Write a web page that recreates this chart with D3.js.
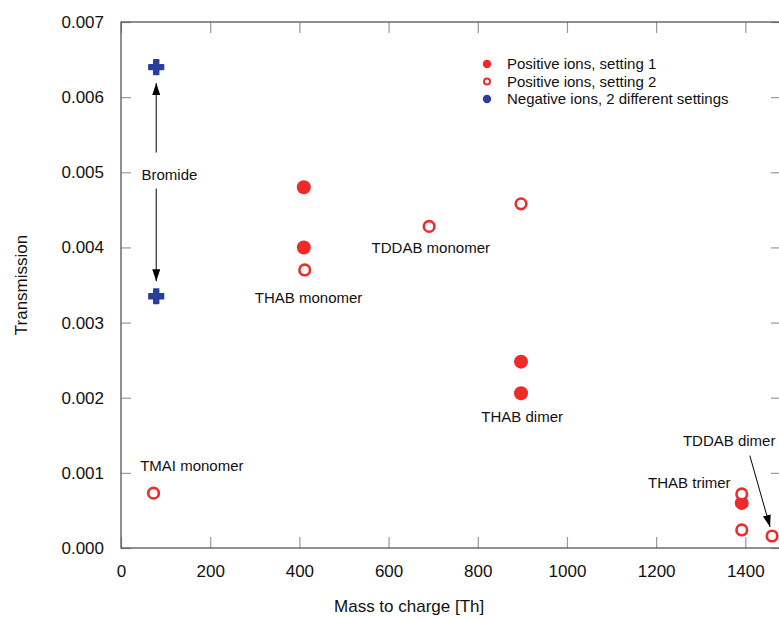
<!DOCTYPE html>
<html>
<head>
<meta charset="utf-8">
<script src="https://cdn.jsdelivr.net/npm/d3@7"></script>
<style>
  body { margin: 0; background: #fff; }
  svg { display: block; font-family: "Liberation Sans", Arial, sans-serif; }
</style>
</head>
<body>
<div class="canvas"></div>
<script>
// data
const positive1 = [
  { mz: 410, t: 0.0048 },
  { mz: 410, t: 0.0040 },
  { mz: 897, t: 0.00248 },
  { mz: 897, t: 0.00206 },
  { mz: 1392, t: 0.00060 }
];
const positive2 = [
  { mz: 73, t: 0.00073 },
  { mz: 412, t: 0.0037 },
  { mz: 691, t: 0.00428 },
  { mz: 897, t: 0.00458 },
  { mz: 1392, t: 0.00072 },
  { mz: 1392, t: 0.00024 },
  { mz: 1460, t: 0.00016 }
];
const negative = [
  { mz: 79, t: 0.0064 },
  { mz: 79, t: 0.00335 }
];
const labels = [
  { text: 'Bromide', mz: 46, t: 0.00497 },
  { text: 'THAB monomer', mz: 300, t: 0.00333 },
  { text: 'TDDAB monomer', mz: 562, t: 0.00400 },
  { text: 'THAB dimer', mz: 808, t: 0.00175 },
  { text: 'TMAI monomer', mz: 43, t: 0.00110 },
  { text: 'THAB trimer', mz: 1182, t: 0.00087 },
  { text: 'TDDAB dimer', mz: 1260, t: 0.00143 }
];
const legendItems = [
  { name: 'Positive ions, setting 1', kind: 'filled' },
  { name: 'Positive ions, setting 2', kind: 'open' },
  { name: 'Negative ions, 2 different settings', kind: 'neg' }
];
const xTicks = [0, 200, 400, 600, 800, 1000, 1200, 1400];
const yTicks = [0, 0.001, 0.002, 0.003, 0.004, 0.005, 0.006, 0.007];

const width = 779;
const height = 619;
const margin = { top: 22, right: -2, bottom: 71, left: 121 };
const graphWidth = width - margin.left - margin.right;
const graphHeight = height - margin.top - margin.bottom;

const red = '#ee2a2a';
const blue = '#2a3f9a';
const tickColor = '#999';
const axisColor = '#555';

const svg = d3.select('.canvas')
  .append('svg')
  .attr('width', width)
  .attr('height', height);

const defs = svg.append('defs');
defs.append('marker')
  .attr('id', 'arrow')
  .attr('viewBox', '0 0 12 8')
  .attr('refX', 12)
  .attr('refY', 4)
  .attr('markerWidth', 12)
  .attr('markerHeight', 8)
  .attr('markerUnits', 'userSpaceOnUse')
  .attr('orient', 'auto')
  .append('path')
  .attr('d', 'M0,0 L12,4 L0,8 Z')
  .attr('fill', '#000');

const graph = svg.append('g')
  .attr('transform', `translate(${margin.left}, ${margin.top})`);

const x = d3.scaleLinear().domain([0, 1480]).range([0, graphWidth]);
const y = d3.scaleLinear().domain([0, 0.007]).range([graphHeight, 0]);

// inward ticks on all four sides
const tickStyle = g => {
  g.select('.domain').remove();
  g.selectAll('.tick line').attr('stroke', tickColor).attr('stroke-width', 1.2);
  g.selectAll('.tick text').attr('fill', '#111').style('font-size', '17px');
};

graph.append('g')
  .attr('transform', `translate(0, ${graphHeight})`)
  .call(d3.axisBottom(x).tickValues(xTicks).tickSizeInner(-11).tickSizeOuter(0).tickPadding(17).tickFormat(d3.format('d')))
  .call(tickStyle);
graph.append('g')
  .call(d3.axisTop(x).tickValues(xTicks).tickSizeInner(-11).tickSizeOuter(0).tickFormat(''))
  .call(tickStyle);
graph.append('g')
  .call(d3.axisLeft(y).tickValues(yTicks).tickSizeInner(-10).tickSizeOuter(0).tickPadding(17).tickFormat(d3.format('.3f')))
  .call(tickStyle);
graph.append('g')
  .attr('transform', `translate(${graphWidth}, 0)`)
  .call(d3.axisRight(y).tickValues(yTicks).tickSizeInner(-10).tickSizeOuter(0).tickFormat(''))
  .call(tickStyle);

graph.append('rect')
  .attr('width', graphWidth)
  .attr('height', graphHeight)
  .attr('fill', 'none')
  .attr('stroke', axisColor)
  .attr('stroke-width', 1.3);

// axis titles
svg.append('text')
  .attr('x', margin.left + x(700) - 24)
  .attr('y', 612)
  .attr('text-anchor', 'middle')
  .style('font-size', '17px')
  .attr('fill', '#111')
  .text('Mass to charge [Th]');
svg.append('text')
  .attr('transform', `translate(27, ${margin.top + y(0.0035)}) rotate(-90)`)
  .attr('text-anchor', 'middle')
  .style('font-size', '17px')
  .attr('fill', '#111')
  .text('Transmission');

// annotation arrows
const br = negative;
graph.append('line')
  .attr('x1', x(br[0].mz)).attr('x2', x(br[0].mz))
  .attr('y1', y(0.00497) - 22).attr('y2', y(br[0].t) + 16)
  .attr('stroke', '#000').attr('stroke-width', 1)
  .attr('marker-end', 'url(#arrow)');
graph.append('line')
  .attr('x1', x(br[1].mz)).attr('x2', x(br[1].mz))
  .attr('y1', y(0.00497) + 14).attr('y2', y(br[1].t) - 15)
  .attr('stroke', '#000').attr('stroke-width', 1)
  .attr('marker-end', 'url(#arrow)');
const dimer = positive2[positive2.length - 1];
graph.append('line')
  .attr('x1', x(1410)).attr('x2', x(dimer.mz) - 2)
  .attr('y1', y(0.00123)).attr('y2', y(dimer.t) - 9)
  .attr('stroke', '#000').attr('stroke-width', 1)
  .attr('marker-end', 'url(#arrow)');

graph.selectAll('text.label')
  .data(labels)
  .enter().append('text')
  .attr('class', 'label')
  .attr('x', d => x(d.mz))
  .attr('y', d => y(d.t))
  .attr('dy', '0.35em')
  .style('font-size', '15px')
  .attr('fill', '#111')
  .text(d => d.text);

// points
graph.selectAll('circle.p1')
  .data(positive1)
  .enter().append('circle')
  .attr('class', 'p1')
  .attr('cx', d => x(d.mz))
  .attr('cy', d => y(d.t))
  .attr('r', 7)
  .attr('fill', red);

graph.selectAll('circle.p2')
  .data(positive2)
  .enter().append('circle')
  .attr('class', 'p2')
  .attr('cx', d => x(d.mz))
  .attr('cy', d => y(d.t))
  .attr('r', 5.3)
  .attr('fill', '#fff')
  .attr('stroke', red)
  .attr('stroke-width', 2.6);

const plus = d3.symbol().type(d3.symbolCross).size(120);
graph.selectAll('path.neg')
  .data(negative)
  .enter().append('path')
  .attr('class', 'neg')
  .attr('transform', d => `translate(${x(d.mz)}, ${y(d.t)})`)
  .attr('d', plus)
  .attr('fill', blue)
  .attr('stroke', blue)
  .attr('stroke-width', 1.5)
  .attr('stroke-linejoin', 'round');

// legend
const legend = svg.append('g').attr('transform', 'translate(487, 64)');
const rows = legend.selectAll('g')
  .data(legendItems)
  .enter().append('g')
  .attr('transform', (d, i) => `translate(0, ${i * 17.5})`);
rows.append('circle')
  .attr('r', d => d.kind === 'open' ? 3 : 4.2)
  .attr('fill', d => d.kind === 'open' ? '#fff' : d.kind === 'neg' ? blue : red)
  .attr('stroke', d => d.kind === 'open' ? red : 'none')
  .attr('stroke-width', 2);
rows.append('text')
  .attr('x', 20)
  .attr('dy', '0.35em')
  .style('font-size', '15px')
  .attr('fill', '#111')
  .text(d => d.name);
</script>
</body>
</html>
